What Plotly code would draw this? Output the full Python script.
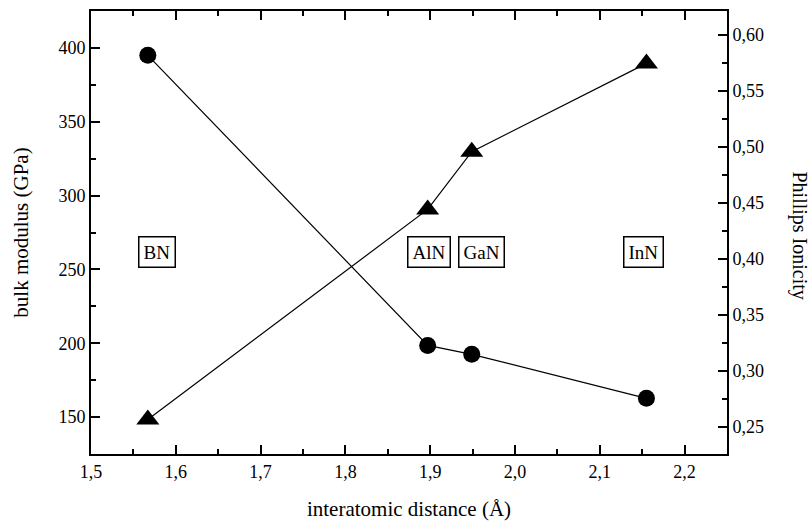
import plotly.graph_objects as go

compounds = ["BN", "AlN", "GaN", "InN"]
distance = [1.567, 1.897, 1.949, 2.155]
bulk_modulus = [395, 198.5, 192.5, 162.7]
ionicity = [0.2563, 0.444, 0.4956, 0.5745]
label_x = [1.578, 1.898, 1.961, 2.152]
label_y = 262

FONT = "Liberation Serif, Times New Roman, DejaVu Serif, serif"

fig = go.Figure()
fig.add_trace(go.Scatter(
    x=distance, y=bulk_modulus, mode="lines+markers", name="bulk modulus",
    line=dict(color="black", width=1.2),
    marker=dict(symbol="circle", size=17, color="black"),
    yaxis="y"))
fig.add_trace(go.Scatter(
    x=distance, y=ionicity, mode="lines+markers", name="Phillips ionicity",
    line=dict(color="black", width=1.2),
    marker=dict(symbol="triangle-up", size=20, color="black"),
    yaxis="y2"))

for name, lx in zip(compounds, label_x):
    fig.add_annotation(x=lx, y=label_y, xref="x", yref="y", text=name,
                       showarrow=False, font=dict(family=FONT, size=19, color="black"),
                       bordercolor="black", borderwidth=1.5, borderpad=4,
                       bgcolor="white")

fig.add_annotation(x=1.0, xref="paper", xanchor="center", xshift=72,
                   y=0.5, yref="paper", yanchor="middle", yshift=-3,
                   text="Phillips Ionicity", textangle=90,
                   showarrow=False, font=dict(family=FONT, size=20, color="black"))

axis_common = dict(showline=True, linecolor="black", linewidth=2, ticks="inside",
                   tickcolor="black", tickwidth=1.5, ticklen=9, showgrid=False,
                   zeroline=False, tickfont=dict(family=FONT, size=18, color="black"))

fig.update_layout(
    width=811, height=528,
    margin=dict(l=91, r=84, t=9, b=74),
    paper_bgcolor="white", plot_bgcolor="white",
    separators=", ",
    showlegend=False,
    font=dict(family=FONT, color="black"),
    xaxis=dict(range=[1.5, 2.25], dtick=0.1, tick0=1.5, tickformat=".1f",
               mirror="ticks",
               minor=dict(ticks="inside", dtick=0.05, ticklen=5, tickcolor="black", tickwidth=1.5),
               title=dict(text="interatomic distance (Å)", font=dict(family=FONT, size=21), standoff=21),
               **axis_common),
    yaxis=dict(range=[125, 425], dtick=50, tick0=150,
               minor=dict(ticks="inside", dtick=25, ticklen=5, tickcolor="black", tickwidth=1.5),
               title=dict(text="bulk modulus (GPa)", font=dict(family=FONT, size=21), standoff=24),
               **axis_common),
    yaxis2=dict(range=[0.2255, 0.6213], dtick=0.05, tick0=0.25, tickformat=".2f",
                overlaying="y", side="right",
                minor=dict(ticks="inside", dtick=0.025, ticklen=5, tickcolor="black", tickwidth=1.5),
                **axis_common),
)

fig.write_html("out.html")
